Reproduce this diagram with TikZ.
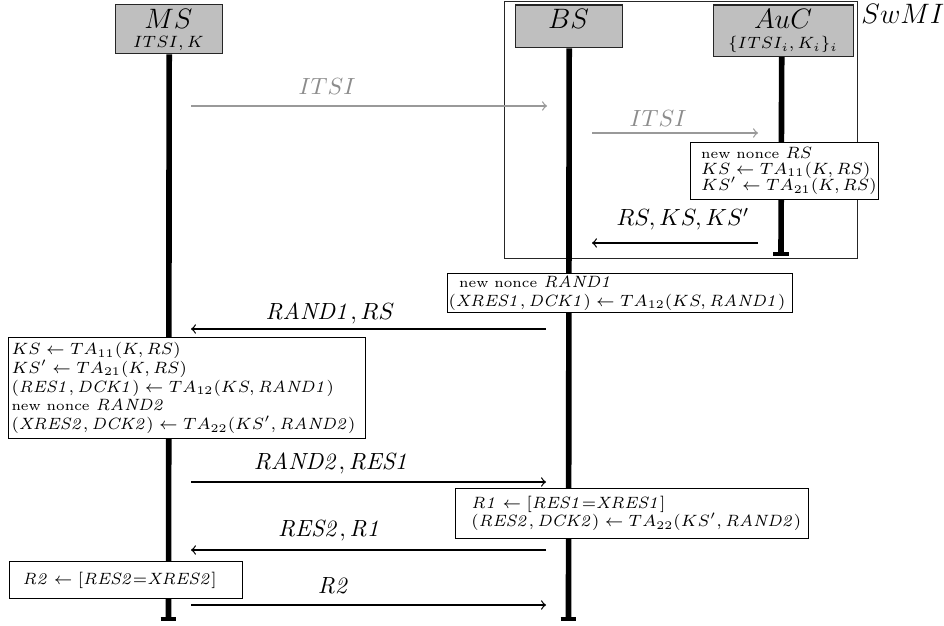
\documentclass[tikz,border=0pt]{standalone}
\usepackage{graphicx}
\newcommand{\tightskip}[1]{\lineskiplimit=-20pt\relax\baselineskip=#1\relax}
\newcommand{\nn}{{\fontsize{6}{7}\selectfont new nonce}}
\begin{document}
\begin{tikzpicture}[x=0.4274pt,y=-0.4274pt]
\tikzset{
  container/.style={draw=black!85, line width=0.45pt, anchor=north west, inner sep=0pt},
  hdr/.style={draw=black!85, fill=black!25, line width=0.6pt, anchor=north west, inner sep=0pt},
  hdrtxt/.style={anchor=base, inner sep=0pt},
  life/.style={line width=2.4pt},
  lifeend/.style={line width=1.8pt},
  msg/.style={->, line width=0.55pt},
  msggray/.style={msg, draw=black!40},
  lbl/.style={anchor=base, inner sep=0pt},
  lblgray/.style={lbl, text=black!45},
  frame/.style={draw, fill=white, line width=0.55pt, anchor=north west, inner sep=0pt},
  content/.style={anchor=west, align=left, inner sep=0pt},
}
\useasboundingbox (0,0) rectangle (944,626);

% SwMI container
\node[container, minimum width=150.87pt, minimum height=109.84pt] (swmi) at (504,1) {};
\node[anchor=base west, inner sep=0pt, font=\large] (swmil) at (861,24) {$SwMI$};

% headers
\node[hdr, minimum width=45.73pt, minimum height=20.94pt] (ms) at (115,4) {};
\node[hdrtxt, font=\large] (mst) at (168.5,29) {$MS$};
\node[hdrtxt, font=\scriptsize] (mss) at (168.5,48) {$ITSI, K$};

\node[hdr, minimum width=45.73pt, minimum height=18.16pt] (bs) at (515,4.5) {};
\node[hdrtxt, font=\large] (bst) at (568.5,29) {$BS$};

\node[hdr, minimum width=59.84pt, minimum height=21.8pt] (auc) at (713,4.5) {};
\node[hdrtxt, font=\large] (auct) at (783,29) {$AuC$};
\node[hdrtxt, font=\scriptsize] (aucs) at (783,49) {$\{ITSI_i, K_i\}_i$};

% lifelines
\coordinate (msend) at (168.5,619);
\coordinate (bsend) at (568.5,619);
\coordinate (aucend) at (781,254);
\draw[life] (ms.south) -- (msend);
\draw[lifeend] ([xshift=-3.4pt]msend) -- ([xshift=3.4pt]msend);
\draw[life] (bs.south) -- (bsend);
\draw[lifeend] ([xshift=-3.4pt]bsend) -- ([xshift=3.4pt]bsend);
\draw[life] ([xshift=-0.85pt]auc.south) -- (aucend);
\draw[lifeend] ([xshift=-3.4pt]aucend) -- ([xshift=3.4pt]aucend);

% messages
\coordinate (m1a) at (191,106); \coordinate (m1b) at (547,106);
\draw[msggray] (m1a) -- (m1b);
\node[lblgray] (l1) at (327,95) {$ITSI$};

\coordinate (m2a) at (592,133); \coordinate (m2b) at (758,133);
\draw[msggray] (m2a) -- (m2b);
\node[lblgray] (l2) at (658,127) {$ITSI$};

\coordinate (m3a) at (758,243); \coordinate (m3b) at (592,243);
\draw[msg] (m3a) -- (m3b);
\node[lbl] (l3) at (683,226) {$RS, KS, KS'$};

\coordinate (m4a) at (546,329); \coordinate (m4b) at (191,329);
\draw[msg] (m4a) -- (m4b);
\node[lbl] (l4) at (330,320) {$\mathit{RAND1}, RS$};

\coordinate (m5a) at (191,482); \coordinate (m5b) at (546,482);
\draw[msg] (m5a) -- (m5b);
\node[lbl] (l5) at (332,470) {$\mathit{RAND2}, \mathit{RES1}$};

\coordinate (m6a) at (546,550); \coordinate (m6b) at (191,550);
\draw[msg] (m6a) -- (m6b);
\node[lbl] (l6) at (330,537) {$\mathit{RES2}, \mathit{R1}$};

\coordinate (m7a) at (191,605); \coordinate (m7b) at (546,605);
\draw[msg] (m7a) -- (m7b);
\node[lbl] (l7) at (334,594) {$\mathit{R2}$};

% computation boxes
\node[frame, minimum width=80.3pt, minimum height=24.3pt] (bauc) at (690,142) {};
\node[content, font=\scriptsize\tightskip{7pt}] (bauct) at ([xshift=4.6pt]bauc.west)
  {\nn{} $RS$\\
   $KS \leftarrow TA_{11}(K, RS)$\\
   $KS' \leftarrow TA_{21}(K, RS)$};

\node[frame, minimum width=147.4pt, minimum height=16.7pt] (bbs1) at (447,273) {};
\node[content, font=\scriptsize\tightskip{8.1pt}] (bbs1t) at ([xshift=0.5pt]bbs1.west)
  {\hspace*{4.5pt}\nn{} $\mathit{RAND1}$\\
   $(\mathit{XRES1}, \mathit{DCK1}) \leftarrow TA_{12}(KS, \mathit{RAND1})$};

\node[frame, minimum width=152.6pt, minimum height=43.2pt] (bms1) at (8,337) {};
\node[content, font=\scriptsize\tightskip{8pt}] (bms1t) at ([xshift=1.3pt]bms1.west)
  {$KS \leftarrow TA_{11}(K, RS)$\\
   $KS' \leftarrow TA_{21}(K, RS)$\\
   $(\mathit{RES1}, \mathit{DCK1}) \leftarrow TA_{12}(KS, \mathit{RAND1})$\\
   \nn{} $\mathit{RAND2}$\\
   $(\mathit{XRES2}, \mathit{DCK2}) \leftarrow TA_{22}(KS', \mathit{RAND2})$};

\node[frame, minimum width=150.9pt, minimum height=21.4pt] (bbs2) at (455,488) {};
\node[content, font=\scriptsize\tightskip{7.7pt}] (bbs2t) at ([xshift=6.8pt]bbs2.west)
  {$\mathit{R1} \leftarrow [\mathit{RES1}{=}\mathit{XRES1}]$\\
   $(\mathit{RES2}, \mathit{DCK2}) \leftarrow TA_{22}(KS', \mathit{RAND2})$};

\node[frame, minimum width=99.6pt, minimum height=15.8pt] (bms2) at (9,561) {};
\node[content, font=\scriptsize] (bms2t) at ([xshift=5.6pt]bms2.west)
  {$\mathit{R2} \leftarrow [\mathit{RES2}{=}\mathit{XRES2}]$};
\end{tikzpicture}
\end{document}
